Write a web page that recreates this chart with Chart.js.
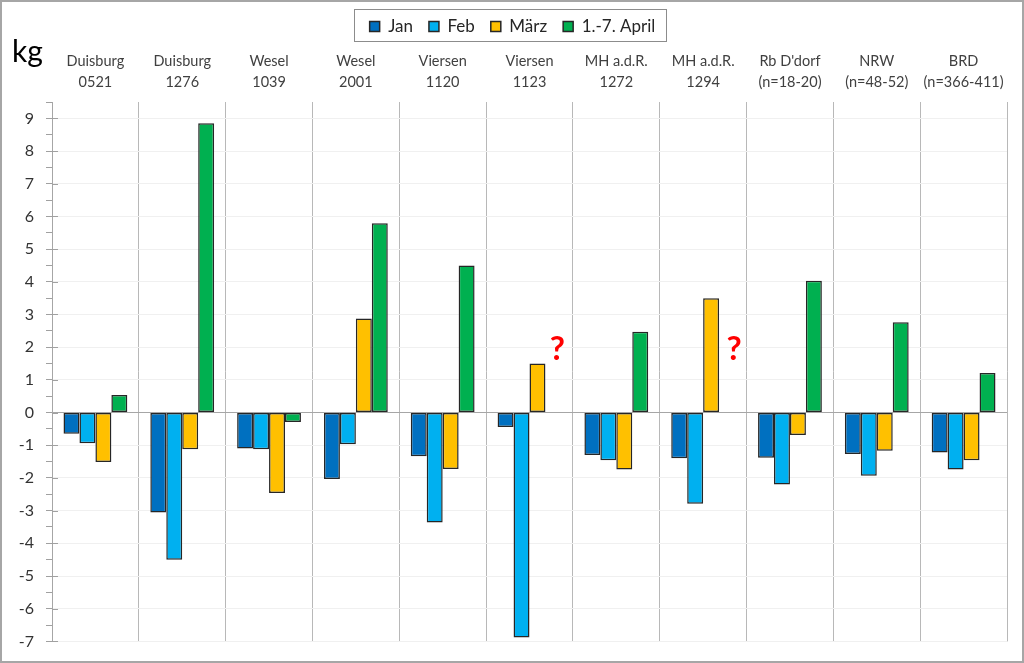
<!DOCTYPE html>
<html>
<head>
<meta charset="utf-8">
<script src="https://cdn.jsdelivr.net/npm/chart.js@4.4.1/dist/chart.umd.min.js"></script>
<style>
  html, body { margin: 0; padding: 0; background: #ffffff; }
  #wrap { width: 1024px; height: 663px; position: relative; }
</style>
</head>
<body>
<div id="wrap"><canvas id="c" width="1024" height="663"></canvas></div>
<script>
// ---- data ----
const categories = [
  ['Duisburg', '0521'], ['Duisburg', '1276'], ['Wesel', '1039'], ['Wesel', '2001'],
  ['Viersen', '1120'], ['Viersen', '1123'], ['MH a.d.R.', '1272'], ['MH a.d.R.', '1294'],
  ["Rb D'dorf", '(n=18-20)'], ['NRW', '(n=48-52)'], ['BRD', '(n=366-411)']
];
const seriesNames = ['Jan', 'Feb', 'März', '1.-7. April'];
const janValues   = [-0.65, -3.06, -1.10, -2.03, -1.34, -0.44, -1.30, -1.40, -1.38, -1.27, -1.22];
const febValues   = [-0.94, -4.50, -1.12, -0.97, -3.36, -6.88, -1.46, -2.79, -2.20, -1.93, -1.74];
const maerzValues = [-1.51, -1.12, -2.46,  2.88, -1.73,  1.50, -1.74,  3.50, -0.69, -1.17, -1.46];
const aprilValues = [ 0.54,  8.85, -0.29,  5.79,  4.50,  null,  2.47,  null,  4.03,  2.76,  1.21];
const questionMarks = ['', '', '', '', '', '?', '', '?', '', '', ''];
const yMin = -7, yMax = 9.5;
const unitLabel = 'kg';

const colors = ['#0070C0', '#00B0F0', '#FFC000', '#00B050'];
const FONT = "Lato, 'Open Sans', sans-serif";

const decorPlugin = {
  id: 'decor',
  afterLayout(chart) {
    // center legend over the full canvas instead of the padded area
    const lg = chart.legend;
    if (lg) { lg.left += 9; lg.right += 9; }
  },
  afterDraw(chart) {
    const ctx = chart.ctx;
    const y = chart.scales.y;
    const area = chart.chartArea;
    ctx.save();
    // major tick extensions into the plot
    ctx.strokeStyle = '#a0a0a0';
    ctx.lineWidth = 1;
    for (let v = Math.ceil(yMin); v <= Math.floor(yMax); v++) {
      const py = Math.round(y.getPixelForValue(v)) + 0.5;
      ctx.beginPath();
      ctx.moveTo(area.left, py);
      ctx.lineTo(area.left + 6, py);
      ctx.stroke();
    }
    // unit label
    ctx.fillStyle = '#000000';
    ctx.font = "30px " + FONT;
    ctx.textBaseline = 'alphabetic';
    ctx.textAlign = 'left';
    ctx.fillText(unitLabel, 12, 62);
    // question marks in empty April slots
    const metaM = chart.getDatasetMeta(2);
    ctx.fillStyle = '#ff0000';
    ctx.font = "bold 33px " + FONT;
    ctx.textAlign = 'center';
    ctx.textBaseline = 'middle';
    questionMarks.forEach((q, i) => {
      if (!q) return;
      const el = metaM.data[i];
      const px = el.x + el.width + (i === 7 ? 7 : 4);
      ctx.fillText(q, px, y.getPixelForValue(2) + 2);
    });
    // legend frame
    const hb = chart.legend.legendHitBoxes;
    if (hb && hb.length) {
      const l = Math.min(...hb.map(h => h.left)) - 16;
      const r = Math.max(...hb.map(h => h.left + h.width)) + 10;
      ctx.strokeStyle = '#8c8c8c';
      ctx.lineWidth = 1;
      ctx.strokeRect(Math.round(l) + 0.5, 9.5, Math.round(r - l), 32);
    }
    // outer frame
    ctx.strokeStyle = '#a6a6a6';
    ctx.lineWidth = 2;
    ctx.strokeRect(1, 1, chart.width - 2, chart.height - 2);
    ctx.restore();
  }
};

const datasets = [janValues, febValues, maerzValues, aprilValues].map((d, i) => ({
  label: seriesNames[i],
  data: d,
  backgroundColor: colors[i],
  borderColor: '#262626',
  borderWidth: 1.5,
  borderSkipped: false,
  categoryPercentage: 0.735,
  barPercentage: 1.0
}));

new Chart(document.getElementById('c'), {
  type: 'bar',
  data: { labels: categories, datasets },
  plugins: [decorPlugin],
  options: {
    responsive: false,
    animation: false,
    devicePixelRatio: 1,
    layout: { padding: { top: 2, right: 17, bottom: 19, left: 0 } },
    plugins: {
      legend: {
        position: 'top',
        labels: {
          boxWidth: 10, boxHeight: 10, padding: 16,
          color: '#262626',
          font: { family: FONT, size: 17 }
        }
      },
      tooltip: { enabled: false }
    },
    scales: {
      x: {
        position: 'top',
        offset: true,
        grid: { color: '#b8b8b8', lineWidth: 1, drawTicks: false, offset: true },
        border: { display: false },
        ticks: {
          color: '#404040', padding: 10, maxRotation: 0, autoSkip: false,
          font: { family: FONT, size: 14.5, lineHeight: 1.4 }
        },
        afterFit(scale) { scale.height = 57; }
      },
      y: {
        min: yMin, max: yMax,
        grid: {
          color: ctx => {
            const v = ctx.tick ? ctx.tick.value : 0;
            if (Math.abs(v) < 1e-9) return '#a6a6a6';
            return Number.isInteger(v) ? '#f0f0f0' : 'rgba(0,0,0,0)';
          },
          tickColor: '#a0a0a0',
          tickLength: 6,
          lineWidth: 1
        },
        border: { color: '#a6a6a6', width: 1 },
        ticks: {
          stepSize: 0.5,
          autoSkip: false,
          padding: 12,
          color: '#333333',
          font: { family: FONT, size: 16 },
          callback: v => Number.isInteger(v) ? String(v) : ''
        },
        afterFit(scale) { scale.width = 52; }
      }
    }
  }
});
</script>
</body>
</html>
